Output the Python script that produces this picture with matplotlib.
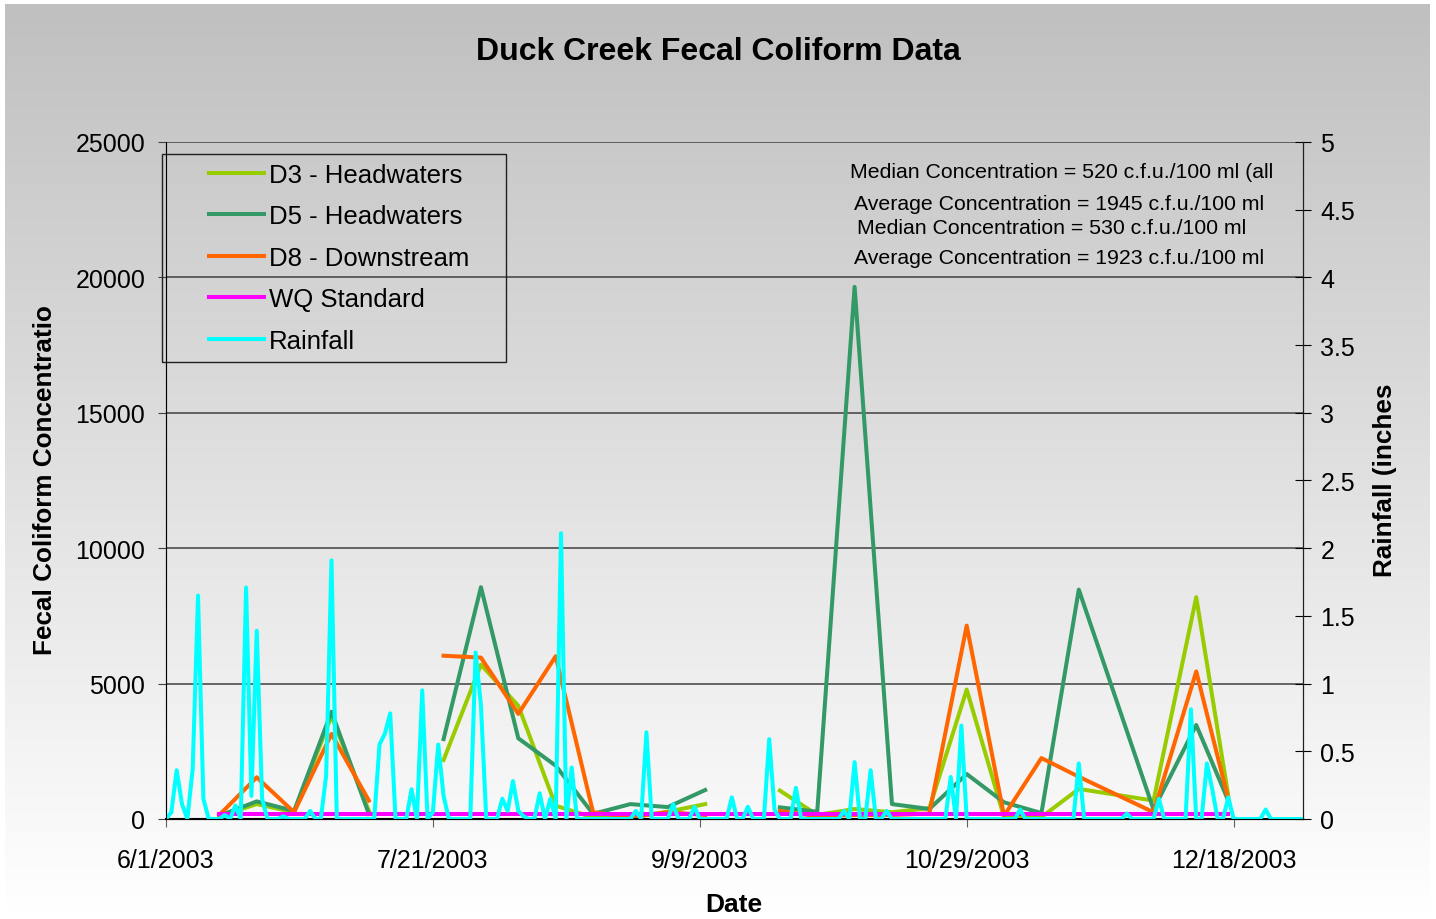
import numpy as np
import pandas as pd
import matplotlib
matplotlib.use("Agg")
import matplotlib.pyplot as plt
from matplotlib.patches import Rectangle

plt.rcParams['font.family'] = ['Liberation Sans', 'DejaVu Sans']

# weekly sampling dates (blank rows on 7/16 and 9/17)
sample_dates = ['2003-06-11', '2003-06-18', '2003-06-25', '2003-07-02', '2003-07-09',
                '2003-07-16', '2003-07-23', '2003-07-30', '2003-08-06', '2003-08-13',
                '2003-08-20', '2003-08-27', '2003-09-03', '2003-09-10', '2003-09-17',
                '2003-09-24', '2003-10-01', '2003-10-08', '2003-10-15', '2003-10-22',
                '2003-10-29', '2003-11-05', '2003-11-12', '2003-11-19', '2003-12-03',
                '2003-12-11', '2003-12-17']
nan = np.nan
d3 = [100, 550, 250, 3800, 300, nan, 2180, 5700, 4180, 490, 60, 60, 270, 550, nan,
      1050, 150, 370, 250, 400, 4780, 70, 70, 1110, 680, 8190, 860]
d5 = [120, 650, 300, 3960, 190, nan, 2950, 8560, 2980, 1970, 190, 550, 440, 1070, nan,
      430, 270, 19650, 550, 370, 1660, 615, 220, 8470, 350, 3470, 680]
d8 = [150, 1540, 250, 3140, 680, nan, 6030, 5960, 3880, 6010, 250, 70, 250, 150, nan,
      300, 100, 150, 150, 200, 7140, 120, 2250, 1560, 250, 5450, 740]
wq_standard = [200] * len(sample_dates)

# daily rainfall (inches), June 1 - Dec 31
rain_jun = [0, 0.05, 0.36, 0.11, 0, 0.37, 1.65, 0.15, 0, 0,
            0, 0.03, 0, 0.10, 0, 1.71, 0.17, 1.39, 0.15, 0,
            0, 0, 0.02, 0, 0, 0, 0, 0.06, 0, 0]
rain_jul = [0.32, 1.91, 0, 0, 0, 0, 0, 0, 0, 0,
            0.55, 0.63, 0.78, 0, 0, 0, 0.22, 0, 0.95, 0,
            0.05, 0.55, 0.17, 0, 0, 0, 0, 0, 1.23, 0.84, 0]
rain_aug = [0, 0, 0.15, 0.06, 0.28, 0.06, 0.02, 0, 0, 0.19,
            0, 0.15, 0, 2.11, 0, 0.38, 0, 0, 0, 0,
            0, 0, 0, 0, 0, 0, 0, 0.06, 0, 0.64, 0]
rain_sep = [0, 0, 0, 0.11, 0, 0, 0, 0.09, 0, 0,
            0, 0, 0, 0, 0.16, 0, 0, 0.09, 0, 0,
            0, 0.59, 0.07, 0, 0, 0, 0.23, 0, 0, 0]
rain_oct = [0, 0, 0, 0, 0, 0.06, 0, 0.42, 0, 0,
            0.36, 0, 0, 0.06, 0, 0, 0, 0, 0, 0,
            0, 0, 0, 0, 0, 0.31, 0, 0.69, 0, 0, 0]
rain_nov = [0, 0, 0, 0, 0, 0, 0, 0.07, 0, 0,
            0, 0, 0, 0, 0, 0, 0, 0, 0.41, 0,
            0, 0, 0, 0, 0, 0, 0, 0.04, 0, 0]
rain_dec = [0, 0, 0, 0.15, 0, 0, 0, 0, 0, 0.81,
            0, 0, 0.41, 0.22, 0, 0, 0.16, 0, 0, 0,
            0, 0, 0, 0.07, 0, 0, 0, 0, 0, 0, 0]
rainfall = rain_jun + rain_jul + rain_aug + rain_sep + rain_oct + rain_nov + rain_dec
rain_dates = pd.date_range('2003-06-01', '2003-12-31', freq='D')

tick_dates = ['2003-06-01', '2003-07-21', '2003-09-09', '2003-10-29', '2003-12-18']
tick_labels = ['6/1/2003', '7/21/2003', '9/9/2003', '10/29/2003', '12/18/2003']

W, H = 1436, 920
fig = plt.figure(figsize=(W / 100, H / 100), dpi=100, facecolor='white')

# grey-to-white chart area background
bg = fig.add_axes([0, 0, 1, 1], zorder=-10)
grad = np.linspace(0, 1, 256)[:, None]
bg.imshow(grad, cmap=matplotlib.colors.LinearSegmentedColormap.from_list(
    'bg', ['#c0c0c0', '#ffffff']), aspect='auto', extent=(5, 1430, 915, 5))
bg.set_xlim(0, W)
bg.set_ylim(H, 0)
bg.axis('off')

ax = fig.add_axes([166 / W, 1 - 820 / H, (1303 - 166) / W, (820 - 143) / H])
ax.patch.set_alpha(0)
ax2 = ax.twinx()

dates = pd.to_datetime(sample_dates)
lw = 2.9
h3, = ax.plot(dates, d3, color='#99CC00', lw=lw, label='D3 - Headwaters')
h5, = ax.plot(dates, d5, color='#339966', lw=lw, label='D5 - Headwaters')
h8, = ax.plot(dates, d8, color='#FF6600', lw=lw, label='D8 - Downstream')
hw, = ax.plot(dates, wq_standard, color='#FF00FF', lw=lw, label='WQ Standard')
hr, = ax2.plot(rain_dates, rainfall, color='#00FFFF', lw=lw, label='Rainfall')

ax.set_xlim(pd.Timestamp('2003-06-01'), pd.Timestamp('2003-12-31'))
ax.set_ylim(0, 25000)
ax.set_yticks(range(0, 25001, 5000))
ax2.set_ylim(0, 5)
ax2.set_yticks(np.arange(0, 5.01, 0.5))
ax2.set_yticklabels(['0', '0.5', '1', '1.5', '2', '2.5', '3', '3.5', '4', '4.5', '5'])
ax.set_xticks(pd.to_datetime(tick_dates))
ax.set_xticklabels(tick_labels)

ax.grid(axis='y', color='#404040', lw=1.1)
ax.set_axisbelow(True)
for sp in ['top']:
    ax.spines[sp].set_visible(False)
    ax2.spines[sp].set_visible(False)
ax.spines['left'].set_color('#606060')
ax.spines['bottom'].set_lw(1.5)
ax2.spines['right'].set_color('#202020')

ax.tick_params(axis='y', direction='out', length=6, pad=9, labelsize=18, color='#404040')
ax.tick_params(axis='x', direction='out', length=6, pad=15, labelsize=18, color='#606060')
ax2.tick_params(axis='y', direction='inout', length=11, pad=7, labelsize=18)

# axis titles
fig.text(718 / W, 1 - 52 / H, 'Duck Creek Fecal Coliform Data', ha='center', va='center',
         fontsize=23, fontweight='bold')
fig.text(45 / W, 1 - 480 / H, 'Fecal Coliform Concentratio', rotation=90, ha='center',
         va='center', fontsize=18.8, fontweight='bold')
fig.text(1385 / W, 1 - 480 / H, 'Rainfall (inches', rotation=90, ha='center',
         va='center', fontsize=18.8, fontweight='bold')
fig.text(734 / W, 1 - 905 / H, 'Date', ha='center', va='center', fontsize=19,
         fontweight='bold')

# summary statistics
stats = [('Median Concentration = 520 c.f.u./100 ml (all', 850, 172),
         ('Average Concentration = 1945 c.f.u./100 ml', 854, 204),
         ('Median Concentration = 530 c.f.u./100 ml', 857, 228),
         ('Average Concentration = 1923 c.f.u./100 ml', 854, 258)]
for txt, x, y in stats:
    fig.text(x / W, 1 - y / H, txt, ha='left', va='center', fontsize=15.3)

# legend
fig.patches.append(Rectangle((162 / W, 1 - 363 / H), (506 - 162) / W, (363 - 155) / H,
                             transform=fig.transFigure, fill=False, ec='#202020', lw=1))
fig.legend(handles=[h3, h5, h8, hw, hr], loc='upper left',
           bbox_to_anchor=(196 / W, 1 - 151 / H), frameon=False, fontsize=18.5,
           borderpad=0, handlelength=2.15, handletextpad=0.2, labelspacing=0.68)

fig.savefig('out.png', dpi=100, facecolor='white')
